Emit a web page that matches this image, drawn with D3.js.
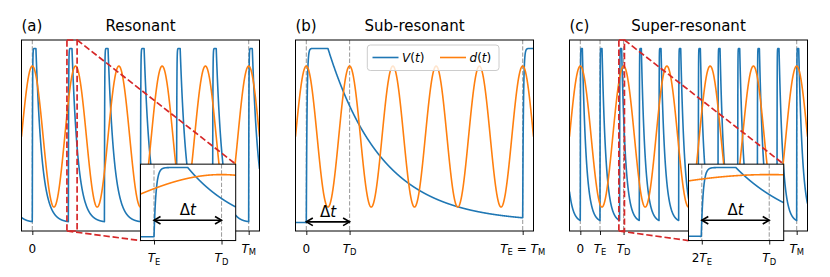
<!DOCTYPE html>
<html>
<head>
<meta charset="utf-8">
<script src="https://cdn.jsdelivr.net/npm/d3@7"></script>
<style>
body { margin: 0; background: #fff; }
svg { display: block; font-family: "DejaVu Sans", sans-serif; }
text { white-space: pre; }
</style>
</head>
<body>
<svg id="fig" width="830" height="277"></svg>
<script>
// ---- values ----
var tags = ['(a)', '(b)', '(c)'];
var titles = ['Resonant', 'Sub-resonant', 'Super-resonant'];

var tDrive = 6;                 // T_D, period of d(t)
var tWindow = [-1.5, 31.5];     // shown time range, T_M = 30

// onsets of the V(t) pulses (multiples of T_E)
var onsetsA = [-5, 0, 5, 10, 15, 20, 25, 30];
var onsetsB = [0, 30];
var onsetsC = [-2.73, 0, 2.73, 5.45, 8.18, 10.91, 13.64, 16.36, 19.09, 21.82, 24.55, 27.27, 30];

// pulse shape per panel
var riseTime = [0.03, 0.1, 0.016];
var plateauLen = [0.5, 3.0, 0.28];
var decayTau = [0.85, 7.5, 0.55];
var vLevels = [-1.22, 1.25];    // baseline, plateau

var tickValsA = [0, 30],        tickTextA = ['0', 'T_M'];
var tickValsB = [0, 6, 30],     tickTextB = ['0', 'T_D', 'T_E = T_M'];
var tickValsC = [0, 2.73, 6, 30], tickTextC = ['0', 'T_E', 'T_D', 'T_M'];

var insetRangeA = [4.8, 6.21],   insetTickValsA = [5, 6],      insetTickTextA = ['T_E', 'T_D'];
var insetRangeC = [5.347, 6.117], insetTickValsC = [5.4545, 6], insetTickTextC = ['2T_E', 'T_D'];

var legendNames = ['V(t)', 'd(t)'];

// ---- layout ----
var svg = d3.select('#fig');
var axTop = 40, axH = 191, axW = 238;
var axLeft = [21.5, 295.5, 569.5];
var yDom = [-1.34, 1.37];
var blue = '#1f77b4', orange = '#ff7f0e', red = '#d62728';

var panels = [
    { onsets: onsetsA, ticks: tickValsA, labels: tickTextA,
      inset: { range: insetRangeA, ticks: insetTickValsA, labels: insetTickTextA } },
    { onsets: onsetsB, ticks: tickValsB, labels: tickTextB, arrow: [0, 6] },
    { onsets: onsetsC, ticks: tickValsC, labels: tickTextC,
      inset: { range: insetRangeC, ticks: insetTickValsC, labels: insetTickTextC } }
];

function pulse(s, k) {
    if (s < 0) return 0;
    var p = plateauLen[k];
    if (s <= p) return 1 - Math.exp(-s / riseTime[k]);
    return (1 - Math.exp(-p / riseTime[k])) * Math.exp(-(s - p) / decayTau[k]);
}

function vAt(t, k) {
    var f = 0;
    panels[k].onsets.forEach(function (t0) { f = Math.max(f, pulse(t - t0, k)); });
    return vLevels[0] + (vLevels[1] - vLevels[0]) * f;
}

function dAt(t) { return Math.cos(2 * Math.PI * t / tDrive); }

function sample(t0, t1, n, fn) {
    return d3.range(n + 1).map(function (i) {
        var t = t0 + (t1 - t0) * i / n;
        return [t, fn(t)];
    });
}

// tiny mathtext: letters italic, "_X" roman subscript
function mathText(sel, str, size) {
    var pending = 0;
    function add(txt, italic, fs) {
        var ts = sel.append('tspan').text(txt).attr('font-style', italic ? 'italic' : 'normal');
        if (fs) ts.attr('font-size', fs);
        if (pending) ts.attr('dy', pending);
        pending = 0;
    }
    for (var i = 0; i < str.length; i++) {
        var c = str[i];
        if (c === '_') {
            pending += size * 0.22;
            add(str[++i], false, size * 0.7);
            pending = -size * 0.22;
        } else {
            add(c, /[A-Za-z]/.test(c), null);
        }
    }
}

function plotBox(g, clipId, x, y, k, tickVals, tickText) {
    var x0 = x.range()[0], x1 = x.range()[1];
    var yb = y.range()[0], yt = y.range()[1];

    g.append('rect')
        .attr('x', x0).attr('y', yt).attr('width', x1 - x0).attr('height', yb - yt)
        .attr('fill', '#fff');

    g.append('clipPath').attr('id', clipId).append('rect')
        .attr('x', x0).attr('y', yt).attr('width', x1 - x0).attr('height', yb - yt);

    var body = g.append('g').attr('clip-path', 'url(#' + clipId + ')');

    body.selectAll('.vl')
        .data(tickVals)
        .join('line')
        .attr('x1', d => x(d)).attr('x2', d => x(d))
        .attr('y1', yt).attr('y2', yb)
        .attr('stroke', '#a0a0a0')
        .attr('stroke-width', 1.1)
        .attr('stroke-dasharray', '4.3,1.9');

    var dom = x.domain();
    var n = Math.ceil((x1 - x0) * 12);
    var line = d3.line().x(d => x(d[0])).y(d => y(d[1]));

    body.append('path')
        .datum(sample(dom[0], dom[1], n, t => vAt(t, k)))
        .attr('d', line)
        .attr('fill', 'none')
        .attr('stroke', blue)
        .attr('stroke-width', 1.6)
        .attr('stroke-linejoin', 'round');

    body.append('path')
        .datum(sample(dom[0], dom[1], n, dAt))
        .attr('d', line)
        .attr('fill', 'none')
        .attr('stroke', orange)
        .attr('stroke-width', 1.6)
        .attr('stroke-linejoin', 'round');

    var axis = g.append('g')
        .attr('transform', 'translate(0,' + yb + ')')
        .call(d3.axisBottom(x).tickValues(tickVals).tickSize(4).tickFormat(''));
    axis.select('.domain').remove();
    axis.selectAll('.tick line').attr('stroke', '#000').attr('stroke-width', 0.9);

    tickVals.forEach(function (v, i) {
        var t = g.append('text')
            .attr('x', x(v)).attr('y', yb + 21.5)
            .attr('text-anchor', 'middle')
            .attr('font-size', 12);
        mathText(t, tickText[i], 12);
    });

    g.append('rect')
        .attr('x', x0).attr('y', yt).attr('width', x1 - x0).attr('height', yb - yt)
        .attr('fill', 'none')
        .attr('stroke', '#000')
        .attr('stroke-width', 1);
}

function arrow(g, xa, xb, yy, fs) {
    g.append('line')
        .attr('x1', xa).attr('x2', xb).attr('y1', yy).attr('y2', yy)
        .attr('stroke', '#000').attr('stroke-width', 1.6);
    [[xa, 1], [xb, -1]].forEach(function (e) {
        g.append('path')
            .attr('d', 'M' + (e[0] + e[1] * 6.5) + ',' + (yy - 3.8) + 'L' + e[0] + ',' + yy +
                       'L' + (e[0] + e[1] * 6.5) + ',' + (yy + 3.8))
            .attr('fill', 'none').attr('stroke', '#000').attr('stroke-width', 1.6);
    });
    var t = g.append('text')
        .attr('x', (xa + xb) / 2).attr('y', yy - 5)
        .attr('text-anchor', 'middle')
        .attr('font-size', fs);
    mathText(t, 'Δt', fs);
}

panels.forEach(function (p, k) {
    var left = axLeft[k];
    var x = d3.scaleLinear().domain(tWindow).range([left, left + axW]);
    var y = d3.scaleLinear().domain(yDom).range([axTop + axH, axTop]);
    var g = svg.append('g');

    plotBox(g, 'clip' + k, x, y, k, p.ticks, p.labels);

    if (p.arrow) {
        arrow(g, x(p.arrow[0]), x(p.arrow[1]), y(-1.21), 15);
    }

    // titles
    svg.append('text')
        .attr('x', left).attr('y', 31)
        .attr('font-size', 15)
        .text(tags[k]);
    svg.append('text')
        .attr('x', left + axW / 2).attr('y', 31)
        .attr('text-anchor', 'middle')
        .attr('font-size', 15)
        .text(titles[k]);

    if (p.inset) {
        var r = p.inset.range;
        var il = left + 0.5 * axW, iw = 0.4 * axW;
        var ib = axTop + axH + 0.05 * axH, ih = 0.4 * axH;
        var xi = d3.scaleLinear().domain(r).range([il, il + iw]);
        var yi = d3.scaleLinear().domain(yDom).range([ib, ib - ih]);

        // zoom marker in the main axes
        var mark = g.append('g')
            .attr('fill', 'none')
            .attr('stroke', red)
            .attr('stroke-width', 1.7)
            .attr('stroke-dasharray', '6.4,2.8');
        mark.append('rect')
            .attr('x', x(r[0])).attr('y', axTop)
            .attr('width', x(r[1]) - x(r[0])).attr('height', axH);
        mark.append('line')
            .attr('x1', x(r[1])).attr('y1', axTop)
            .attr('x2', il + iw).attr('y2', ib - ih);
        mark.append('line')
            .attr('x1', x(r[0])).attr('y1', axTop + axH)
            .attr('x2', il).attr('y2', ib);

        var gi = svg.append('g');
        plotBox(gi, 'iclip' + k, xi, yi, k, p.inset.ticks, p.inset.labels);
        arrow(gi, xi(p.inset.ticks[0]), xi(p.inset.ticks[1]), yi(-0.62), 15);
    }

    if (k === 1) {
        var lg = svg.append('g');
        lg.append('rect')
            .attr('x', 367.3).attr('y', 45).attr('width', 131.7).attr('height', 25.5)
            .attr('rx', 3)
            .attr('fill', '#fff').attr('fill-opacity', 0.8)
            .attr('stroke', '#cccccc').attr('stroke-width', 1);
        var items = [[372.5, blue], [440, orange]];
        items.forEach(function (it, i) {
            lg.append('line')
                .attr('x1', it[0]).attr('x2', it[0] + 26)
                .attr('y1', 57.5).attr('y2', 57.5)
                .attr('stroke', it[1]).attr('stroke-width', 1.6);
            var t = lg.append('text')
                .attr('x', it[0] + 29.5).attr('y', 61.8)
                .attr('font-size', 12);
            mathText(t, legendNames[i], 12);
        });
    }
});
</script>
</body>
</html>
